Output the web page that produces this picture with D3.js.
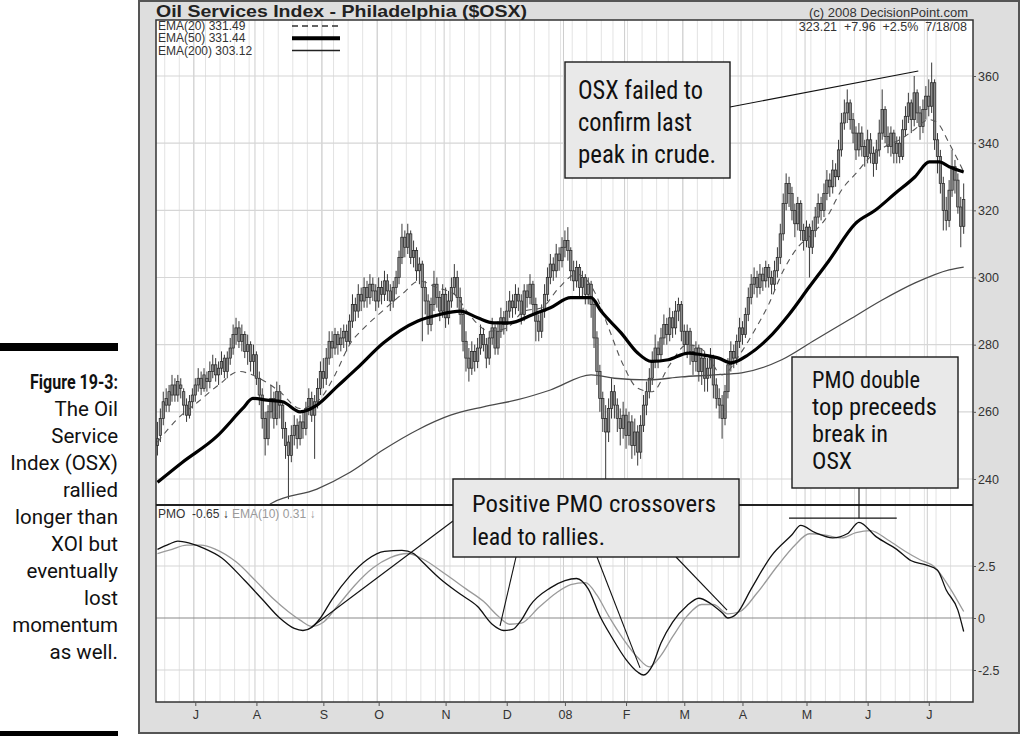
<!DOCTYPE html>
<html><head><meta charset="utf-8">
<script src="https://cdn.jsdelivr.net/npm/d3@7"></script>
<style>
html,body{margin:0;padding:0;background:#fff;}
svg{display:block;}
</style></head><body>
<svg id="chart" width="1020" height="736"></svg>
<script>
// ---- Trading calendar: 13 Jun 2007 .. 18 Jul 2008 (NYSE holidays skipped)
const firstDay = new Date(2007, 5, 13);
const lastDay = new Date(2008, 6, 18);
const holidays = ["2007-07-04","2007-09-03","2007-11-22","2007-12-25","2008-01-01",
  "2008-01-21","2008-02-18","2008-03-21","2008-05-26","2008-07-04"];

// ---- Daily $OSX prices (one entry per trading day)
const opens = [
250,253,258,264,262,265,268,265,268,266, 262,259,263,265,268,270,267,270,269,272,
274,271,273,276,272,276,279,283,285,281, 283,278,280,275,277,270,265,258,252,260,
264,258,266,262,255,251,247,253,256,252, 257,255,261,264,259,263,267,272,270,276,
281,279,283,280,282,284,281,287,292,290, 295,293,297,294,298,296,293,297,295,299,
296,293,297,300,306,312,309,313,306,308, 302,304,297,293,286,292,298,294,290,295,
288,293,297,300,294,289,281,276,273,278, 275,279,283,280,276,282,285,279,284,288,
286,290,293,291,295,293,289,296,294,298, 292,287,284,290,295,300,304,302,307,305,
309,311,308,302,299,303,297,300,295,298, 292,282,272,264,258,254,261,266,262,258,
255,259,253,257,250,254,248,256,262,266, 270,275,279,277,282,286,283,288,285,290,
292,284,280,284,278,275,279,272,276,270, 273,276,268,264,262,258,266,274,278,276,
281,285,283,289,294,298,300,297,301,299, 303,300,298,302,306,313,322,328,325,320,
316,322,314,311,315,309,314,318,322,320, 325,329,327,332,330,338,346,349,352,347,
343,338,343,339,336,341,337,334,338,343, 350,342,339,343,337,340,336,344,348,352,
347,355,349,345,350,354,351,358,341,336, 328,320,317,326,333,329,321,315.25];
const highs = [
257,261,266,267,268,271,270,271,270,267, 264,265,267,270,273,272,273,272,275,277,
276,275,278,277,278,282,286,288,287,286, 284,283,281,280,278,272,267,260,262,268,
266,269,268,263,257,253,256,259,258,259, 260,263,267,266,265,270,275,276,279,284,
284,285,284,285,286,286,289,295,294,298, 297,300,299,301,300,298,300,299,302,301,
298,299,302,308,316,314,316,314,311,309, 306,305,299,295,294,302,300,296,298,297,
296,300,304,302,297,291,284,279,281,280, 282,286,285,282,284,288,286,287,291,290,
293,296,295,298,297,295,298,298,301,299, 294,289,292,298,303,307,306,310,309,312,
314,315,309,305,305,304,302,301,300,299, 293,284,274,266,262,264,270,268,264,261,
263,261,260,259,258,256,259,265,269,273, 278,283,281,285,289,288,291,290,293,294,
293,286,286,285,280,281,280,279,278,276, 279,277,270,267,265,268,276,281,280,283,
288,287,291,297,301,303,302,304,303,305, 304,302,305,309,316,325,331,330,327,322,
324,323,316,317,316,317,321,325,324,328, 332,331,335,334,341,349,353,356,353,349,
345,346,345,341,344,343,339,341,347,356, 351,345,345,344,342,342,347,351,355,353,
360,356,351,353,357,359,364,359,343,338, 330,324,329,338,335,331,324,328];
const lows = [
247,251,256,260,260,263,263,263,264,259, 257,258,261,263,266,265,266,266,267,270,
269,268,271,270,270,274,277,280,279,278, 276,274,272,271,268,262,255,247,250,258,
255,256,258,252,246,234,245,250,249,250, 252,253,259,257,246,261,265,267,268,274,
276,277,277,278,279,278,280,285,287,288, 290,291,291,292,293,290,291,292,293,293,
290,291,295,298,304,306,307,304,303,299, 298,281,289,283,284,290,291,287,288,285,
286,291,295,291,286,278,272,269,271,272, 273,277,278,273,274,280,277,277,282,283,
284,288,288,289,290,286,287,291,292,289, 281,281,282,288,293,298,299,300,302,303,
306,305,299,296,297,294,294,292,292,288, 279,268,260,254,240,251,258,258,254,250,
252,249,250,246,247,244,246,254,259,264, 268,273,273,275,280,280,281,282,283,287,
281,277,276,274,271,272,269,268,266,266, 270,264,261,258,252,256,264,272,273,274,
279,280,282,287,292,295,294,295,296,297, 297,295,296,300,304,311,320,321,317,312,
314,311,308,309,300,307,312,316,317,318, 323,324,325,327,329,336,344,346,344,340,
335,336,336,333,334,334,330,332,336,341, 340,337,336,334,334,334,335,342,346,343,
345,346,341,343,347,348,349,338,331,325, 314,314,315,324,325,319,309,313];
const closes = [
252,258,263,262,266,268,265,269,267,262, 259,263,265,268,270,267,271,269,272,274,
271,273,275,272,276,279,283,285,281,283, 278,280,275,277,270,265,258,252,260,264,
258,266,262,255,250,247,253,256,252,257, 255,261,264,259,263,267,272,270,276,281,
279,283,280,282,284,281,287,292,290,295, 293,297,294,298,296,293,297,295,299,296,
293,297,300,306,312,309,313,306,308,302, 304,297,293,286,292,298,294,290,295,288,
293,297,300,294,289,281,276,273,278,275, 279,283,280,276,282,285,279,284,288,286,
290,293,291,295,293,289,296,294,298,292, 287,284,290,295,300,304,302,307,305,309,
311,308,302,299,303,297,300,295,298,292, 282,272,264,258,254,261,266,262,258,255,
259,253,257,250,254,248,256,262,266,270, 275,279,277,282,286,283,288,285,290,292,
284,280,284,278,275,279,272,276,270,273, 276,268,264,262,258,266,274,278,276,281,
285,283,289,294,298,300,297,301,299,303, 300,298,302,306,313,322,328,325,320,316,
322,314,311,315,309,314,318,322,320,325, 329,327,332,330,338,346,349,352,347,343,
338,343,339,336,341,337,334,338,343,350, 342,339,343,337,340,336,344,348,352,347,
355,349,345,350,354,351,358,341,336,328, 320,317,326,333,329,321,315.25,323.21];

// ---- Moving averages, [trading day, value]
const ema20 = [[0,251],[7,258],[14,263],[21,268],[28,272],[35,270],[42,266],[49,261],[56,264],
  [61,271],[66,280],[71,285],[76,289],[84,295],[90,299],[96,297],[102,295],[108,288],[114,284],
  [120,285],[126,290],[132,291],[138,297],[144,301],[150,296],[155,285],[160,274],[165,267],
  [170,266],[176,274],[182,280],[188,278],[194,271],[200,277],[205,284],[210,292],[215,302],
  [220,309],[225,313],[230,318],[235,326],[240,331],[245,336],[250,339],[255,341],[260,344],
  [265,347],[268,346],[272,340],[277,331.49]];
const ema50 = [[0,239],[8.6,245],[20.3,252.6],[29.3,261],[32.8,264],[37.6,263.5],[43,263],
  [49,260],[54.8,262],[61.7,267.5],[68.6,273],[77.6,280.5],[89.3,287],[97,289],[104,290],
  [110,288],[115.5,286.5],[121,286.5],[129,289],[135,291],[142,294],[149,294],[152.4,290],
  [159.3,283.5],[165,277.5],[169.7,275],[175.5,275.5],[182.4,277.5],[187,277],[192.8,276],
  [197,274.6],[203,277],[210,282],[217,289],[223.8,297],[230.7,305],[239.7,316],[246.6,320],
  [253.4,325],[260.3,330],[265.2,334.4],[268.6,334.4],[272,333],[277,331.44]];
const ema200 = [[36,231],[39.7,233],[54.8,237],[66.2,242],[77.6,248.7],[89.3,254.6],[100.7,259],
  [112,261.5],[123.8,263.6],[135,266.5],[149,271],[157,270],[168.6,269.5],[180,270.4],
  [191.4,271],[200.7,271.6],[214.5,275.5],[225.9,281.4],[237.6,287.4],[249,293.3],
  [260.3,298.4],[272,302.3],[277,303.12]];

// ---- Price Momentum Oscillator and its 10-day EMA signal
const pmo = [[0,3.3],[4,3.55],[7,3.7],[11,3.6],[16,3.35],[22,2.9],[30,1.8],[36,0.9],[42,0.0],
  [47,-0.5],[50,-0.6],[53,-0.45],[56,0],[60,0.9],[66,2.0],[72,2.8],[78,3.2],[84,3.25],[88,3.1],
  [91,2.7],[97,1.9],[104,1.15],[110,0.55],[115,-0.3],[119,-0.6],[122,-0.55],[125,-0.1],
  [128,0.6],[135,1.45],[140,1.8],[144,1.9],[148,1.4],[152,0.1],[156,-0.9],[161,-2.0],[165,-2.6],
  [167,-2.74],[170,-2.3],[173,-1.2],[177,-0.2],[182,0.6],[186,0.95],[190,0.7],[194,0.25],
  [196,0.0],[199,0.2],[204,1.4],[211,3.0],[218,4.0],[221,4.45],[226,4.1],[232,3.85],[237,4.05],
  [241,4.6],[247,3.9],[254,3.3],[259,2.75],[264,2.55],[268,2.3],[271,1.35],[275,0.38],[277,-0.65]];
const pmoSignal = [[0,3.1],[5,3.3],[10,3.5],[15,3.5],[20,3.3],[27,2.7],[34,1.75],[40,0.9],
  [45,0.3],[49,-0.1],[53,-0.4],[57,-0.2],[62,0.6],[68,1.6],[74,2.4],[80,2.9],[86,3.1],[91,2.85],
  [99,2.1],[106,1.4],[112,0.8],[117,0.1],[121,-0.3],[125,-0.25],[131,0.5],[137,1.2],[142,1.6],
  [147,1.7],[151,1.1],[155,0.1],[160,-1.0],[165,-1.9],[169,-2.35],[173,-1.8],[177,-0.9],[182,0.1],
  [187,0.65],[191,0.65],[196,0.2],[200,0.3],[206,1.2],[213,2.5],[219,3.5],[224,4.05],[229,4.0],
  [235,3.85],[240,4.1],[245,4.2],[251,3.75],[257,3.2],[262,2.8],[267,2.45],[272,1.5],[277,0.31]];

// ---- Axis ticks
const monthLabels = ["J","A","S","O","N","D","08","F","M","A","M","J","J"];
const priceTicks = [240,260,280,300,320,340,360];
const pmoTicks = [-2.5,0,2.5];

// ---- Annotation anchors in data space
const crossovers = [[53,-0.43],[117.7,-0.38],[165.8,-2.4],[195.7,0.38]];
const crudePeak = [261.4,361.5];
const doubleTopSpan = [[217,4.8],[254,4.8]];

// ================= drawing =================
const svg = d3.select("#chart");
const fontChart = "'Liberation Sans', Arial, sans-serif";
const fontNarrow = "'Liberation Sans Narrow','Roboto Condensed','DejaVu Sans Condensed',Roboto,sans-serif";
const fontCaption = "Roboto, 'Liberation Sans', sans-serif";
const P = {l:156, r:973, t:20, mid:505, b:702};

const fmtDay = d3.timeFormat("%Y-%m-%d");
const days = d3.timeDay.range(firstDay, d3.timeDay.offset(lastDay, 1))
  .filter(d => d.getDay() % 6 !== 0 && !holidays.includes(fmtDay(d)));
const monthStarts = days.map((d,i)=>i).filter(i => i>0 && days[i].getMonth() !== days[i-1].getMonth());
const weekStarts = days.map((d,i)=>i).filter(i => i>0 && days[i].getDay() < days[i-1].getDay());

const x = d3.scaleLinear().domain([-0.5, 280.2]).range([P.l, P.r]);
const yP = d3.scaleLinear().domain([240, 360]).range([479, 76]);
const yM = d3.scaleLinear().domain([-2.5, 2.5]).range([670, 566]);

// outer frame
svg.append("rect").attr("x",139).attr("y",1).attr("width",880).attr("height",732)
  .attr("fill","#dedede").attr("stroke","#555").attr("stroke-width",2);

// plot background
svg.append("rect").attr("x",P.l).attr("y",P.t).attr("width",P.r-P.l).attr("height",P.b-P.t)
  .attr("fill","#fff");

const defs = svg.append("defs");
defs.append("clipPath").attr("id","clipP").append("rect")
  .attr("x",P.l).attr("y",P.t).attr("width",P.r-P.l).attr("height",P.mid-P.t);
defs.append("clipPath").attr("id","clipM").append("rect")
  .attr("x",P.l).attr("y",P.mid).attr("width",P.r-P.l).attr("height",P.b-P.mid);

// grid
const grid = svg.append("g");
grid.selectAll(".wk").data(weekStarts).join("line")
  .attr("x1",d=>x(d-0.5)).attr("x2",d=>x(d-0.5)).attr("y1",P.t).attr("y2",P.b)
  .attr("stroke","#e3e3e3").attr("stroke-width",1);
grid.selectAll(".mo").data(monthStarts).join("line")
  .attr("x1",d=>x(d-0.5)).attr("x2",d=>x(d-0.5)).attr("y1",P.t).attr("y2",P.b)
  .attr("stroke","#cdcdcd").attr("stroke-width",1);
grid.selectAll(".hp").data(priceTicks).join("line")
  .attr("x1",P.l).attr("x2",P.r).attr("y1",d=>yP(d)).attr("y2",d=>yP(d))
  .attr("stroke","#d6d6d6").attr("stroke-width",1.2);
grid.selectAll(".hm").data(pmoTicks).join("line")
  .attr("x1",P.l).attr("x2",P.r).attr("y1",d=>yM(d)).attr("y2",d=>yM(d))
  .attr("stroke",d=>d===0?"#8a8a8a":"#d6d6d6").attr("stroke-width",1.2);

// price panel
const pg = svg.append("g").attr("clip-path","url(#clipP)");
const bars = pg.append("g");
closes.forEach((c,i)=>{
  const o = opens[i];
  bars.append("line").attr("x1",x(i)).attr("x2",x(i))
    .attr("y1",yP(highs[i])).attr("y2",yP(lows[i]))
    .attr("stroke","#222").attr("stroke-width",0.9);
  const top = yP(Math.max(o,c)), h = Math.max(1.2, Math.abs(yP(o)-yP(c)));
  bars.append("rect").attr("x",x(i)-1.2).attr("y",top).attr("width",2.4).attr("height",h)
    .attr("fill","#8c8c8c").attr("stroke","#222").attr("stroke-width",0.7);
});
const lineGen = (ys) => d3.line().x(d=>x(d[0])).y(d=>ys(d[1])).curve(d3.curveMonotoneX);
pg.append("path").datum(ema200).attr("d",lineGen(yP)).attr("fill","none")
  .attr("stroke","#4a4a4a").attr("stroke-width",1.3);
pg.append("path").datum(ema20).attr("d",lineGen(yP)).attr("fill","none")
  .attr("stroke","#555").attr("stroke-width",1.1).attr("stroke-dasharray","6,5");
pg.append("path").datum(ema50).attr("d",lineGen(yP)).attr("fill","none")
  .attr("stroke","#000").attr("stroke-width",3.2).attr("stroke-linejoin","round");

// PMO panel
const mg = svg.append("g").attr("clip-path","url(#clipM)");
mg.append("path").datum(pmoSignal).attr("d",lineGen(yM)).attr("fill","none")
  .attr("stroke","#9a9a9a").attr("stroke-width",1.3);
mg.append("path").datum(pmo).attr("d",lineGen(yM)).attr("fill","none")
  .attr("stroke","#111").attr("stroke-width",1.3);

// plot borders and panel divider
svg.append("rect").attr("x",P.l).attr("y",P.t).attr("width",P.r-P.l).attr("height",P.b-P.t)
  .attr("fill","none").attr("stroke","#333").attr("stroke-width",1.5);
svg.append("line").attr("x1",P.l).attr("x2",P.r).attr("y1",P.mid).attr("y2",P.mid)
  .attr("stroke","#222").attr("stroke-width",2.2);

// axes
const axP = svg.append("g").attr("transform",`translate(${P.r},0)`)
  .call(d3.axisRight(yP).tickValues(priceTicks).tickSize(3).tickPadding(2).tickFormat(d3.format("d")));
const axM = svg.append("g").attr("transform",`translate(${P.r},0)`)
  .call(d3.axisRight(yM).tickValues(pmoTicks).tickSize(3).tickPadding(2).tickFormat(d=>String(d)));
const axX = svg.append("g").attr("transform",`translate(0,${P.b})`)
  .call(d3.axisBottom(x).tickValues(monthStarts).tickSize(4).tickPadding(4)
    .tickFormat((d,i)=>monthLabels[i]));
[axP,axM,axX].forEach(a=>{
  a.select(".domain").remove();
  a.selectAll("text").attr("font-family",fontChart).attr("font-size",12.5).attr("fill","#333");
  a.selectAll("line").attr("stroke","#555");
});

// header texts
svg.append("text").attr("x",156).attr("y",17).attr("font-family",fontChart)
  .attr("font-weight","bold").attr("font-size",17).attr("fill","#222")
  .attr("textLength",371).attr("lengthAdjust","spacingAndGlyphs")
  .text("Oil Services Index - Philadelphia ($OSX)");
svg.append("text").attr("x",968).attr("y",17).attr("text-anchor","end")
  .attr("font-family",fontChart).attr("font-size",13).attr("fill","#333")
  .text("(c) 2008 DecisionPoint.com");
svg.append("text").attr("x",967).attr("y",31).attr("text-anchor","end")
  .attr("font-family",fontChart).attr("font-size",12.5).attr("fill","#333")
  .attr("xml:space","preserve")
  .text(`${closes[closes.length-1].toFixed(2)}  +${(closes[closes.length-1]-closes[closes.length-2]).toFixed(2)}  +${((closes[closes.length-1]/closes[closes.length-2]-1)*100).toFixed(1)}%  7/18/08`);

// legend
const legendRows = [
  {t:`EMA(20) ${ema20[ema20.length-1][1].toFixed(2)}`, w:1.3, dash:"6,4", c:"#333"},
  {t:`EMA(50) ${ema50[ema50.length-1][1].toFixed(2)}`, w:4, dash:null, c:"#000"},
  {t:`EMA(200) ${ema200[ema200.length-1][1].toFixed(2)}`, w:1.5, dash:null, c:"#222"}];
legendRows.forEach((r,k)=>{
  const yy = 30 + k*12.3;
  svg.append("text").attr("x",158).attr("y",yy).attr("font-family",fontChart)
    .attr("font-size",12).attr("fill","#333").text(r.t);
  svg.append("line").attr("x1",292).attr("x2",340).attr("y1",yy-4).attr("y2",yy-4)
    .attr("stroke",r.c).attr("stroke-width",r.w).attr("stroke-dasharray",r.dash);
});

// PMO label
const pmoLast = pmo[pmo.length-1][1], sigLast = pmoSignal[pmoSignal.length-1][1];
const pl = svg.append("text").attr("x",158).attr("y",518).attr("font-family",fontChart)
  .attr("font-size",12).attr("xml:space","preserve");
pl.append("tspan").attr("fill","#333").text(`PMO  ${pmoLast.toFixed(2)} `);
pl.append("tspan").attr("fill","#222").attr("font-weight","bold").text("↓");
pl.append("tspan").attr("fill","#9a9a9a").text(` EMA(10) ${sigLast.toFixed(2)} `);
pl.append("tspan").attr("fill","#9a9a9a").attr("font-weight","bold").text("↓");

// callouts
function callout(bx, by, bw, bh, lines, tx, baselines, widths, fs){
  svg.append("rect").attr("x",bx).attr("y",by).attr("width",bw).attr("height",bh)
    .attr("fill","#e9e9e9").attr("stroke","#1a1a1a").attr("stroke-width",1.4);
  lines.forEach((t,k)=>{
    svg.append("text").attr("x",tx).attr("y",baselines[k]).attr("font-family",fontNarrow)
      .attr("font-size",fs).attr("fill","#111")
      .attr("textLength",widths[k]).attr("lengthAdjust","spacingAndGlyphs").text(t);
  });
}
const leader = (x1,y1,x2,y2) => svg.append("line").attr("x1",x1).attr("y1",y1)
  .attr("x2",x2).attr("y2",y2).attr("stroke","#111").attr("stroke-width",1.1);

// "failed to confirm"
leader(730,107, x(crudePeak[0]), yP(crudePeak[1]));
callout(565,62,165,116,["OSX failed to","confirm last","peak in crude."],578,[99,131,163],[125,114,138],25);

// "double top"
leader(x(doubleTopSpan[0][0]), yM(doubleTopSpan[0][1]), x(doubleTopSpan[1][0]), yM(doubleTopSpan[1][1]));
leader(859,488,859,yM(doubleTopSpan[0][1]));
callout(792,357,166,131,["PMO double","top preceeds","break in","OSX"],812,[388,415,442,469],[108,125,76,40],23);

// "positive crossovers"
const starts = [[453,521],[516,557],[597,557],[676,557]];
crossovers.forEach((c,k)=> leader(starts[k][0],starts[k][1], x(c[0]), yM(c[1])));
callout(453,479,286,78,["Positive PMO crossovers","lead to rallies."],472,[512,545],[244,133],23);

// figure caption
svg.append("rect").attr("x",0).attr("y",343).attr("width",118).attr("height",8).attr("fill","#000");
svg.append("rect").attr("x",0).attr("y",731).attr("width",118).attr("height",6).attr("fill","#000");
const capLines = ["Figure 19-3:","The Oil","Service","Index (OSX)","rallied","longer than",
  "XOI but","eventually","lost","momentum","as well."];
capLines.forEach((t,k)=>{
  const tx = svg.append("text").attr("x",118).attr("y",389+k*27).attr("text-anchor","end")
    .attr("font-family",fontCaption).attr("font-size",20.5)
    .attr("fill","#111").text(t);
  if (k===0) tx.attr("font-weight","bold").attr("text-anchor","start").attr("x",30)
    .attr("textLength",88).attr("lengthAdjust","spacingAndGlyphs");
});
</script>
</body></html>
